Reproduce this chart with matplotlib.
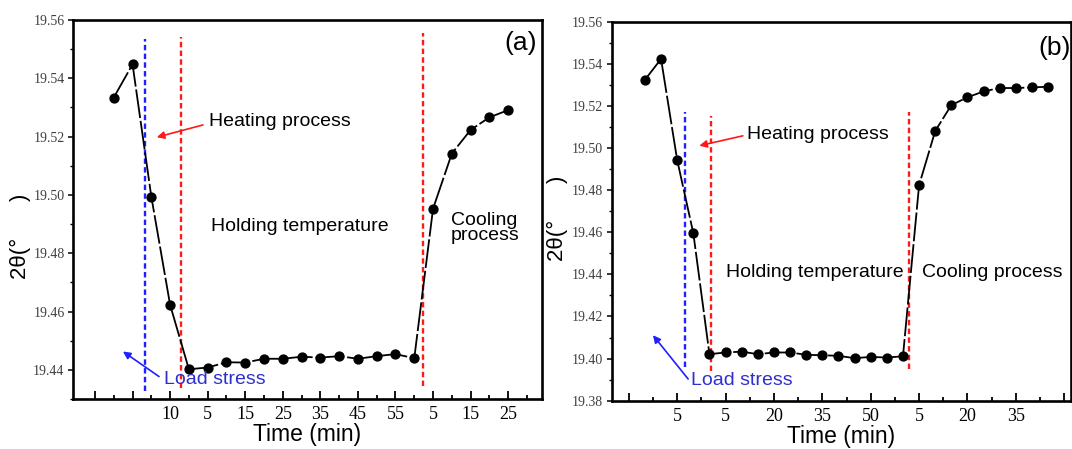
import matplotlib
matplotlib.use("Agg")
import matplotlib.pyplot as plt
import numpy as np

# ---------------- data ----------------
# panel (a)
a_idx = list(range(1, 23))
a_vals = [19.5334, 19.5448, 19.4994, 19.4623, 19.4402, 19.4408, 19.4426, 19.4425,
          19.4438, 19.4438, 19.4445, 19.4442, 19.4447, 19.4438, 19.4447, 19.4454,
          19.4440, 19.4953, 19.5142, 19.5223, 19.5266, 19.5291]
a_tick_pos = list(range(0, 23, 2))
a_tick_labels = ['', '', '10', '5', '15', '25', '35', '45', '55', '5', '15', '25']
a_blue_x = 2.65
a_red_x = [4.58, 17.48]

# panel (b)
b_idx = list(range(0, 26))
b_vals = [19.5324, 19.5423, 19.4943, 19.4596, 19.4021, 19.4029, 19.4033, 19.4021,
          19.4029, 19.4029, 19.4018, 19.4016, 19.4013, 19.4002, 19.4008, 19.4005,
          19.4011, 19.4824, 19.5081, 19.5204, 19.5241, 19.5269, 19.5285, 19.5285,
          19.5288, 19.5291]
b_tick_pos = [-1, 2, 5, 8, 11, 14, 17, 20, 23, 26]
b_tick_labels = ['', '5', '5', '20', '35', '50', '5', '20', '35', '']
b_blue_x = 2.48
b_red_x = [4.09, 16.37]

SANS = ['Liberation Sans', 'DejaVu Sans']
SERIF = ['Liberation Serif', 'DejaVu Serif']
plt.rcParams['font.family'] = SANS

fig = plt.figure(figsize=(10.72, 4.49), dpi=100)
axA = fig.add_axes([73/1072, 50/449, 469/1072, 379/449])
axB = fig.add_axes([611.7/1072, 48.3/449, 459/1072, 379/449])

RED = '#ff1a1a'
BLUE = '#1f1fff'
LBLUE = '#2f2fcf'
YLABEL = '2θ(°      )'


def style_axes(ax, xlim, ylim, xticks, xlabels, yticks, yminor):
    ax.set_xlim(*xlim)
    ax.set_ylim(*ylim)
    for s in ax.spines.values():
        s.set_linewidth(1.9)
    ax.set_xticks(xticks)
    ax.set_xticklabels(xlabels)
    step = xticks[1] - xticks[0]
    ax.set_xticks([t + step / 2 for t in xticks[:-1]] +
                  ([xticks[-1] + step / 2] if xticks[-1] + step / 2 < xlim[1] else []),
                  minor=True)
    ax.set_yticks(yticks)
    ax.set_yticklabels([f'{v:.2f}' for v in yticks])
    ax.set_yticks(yminor, minor=True)
    ax.tick_params(axis='x', which='major', direction='in', length=5.5, width=1.3,
                   pad=5, labelsize=13, top=False)
    ax.tick_params(axis='x', which='minor', direction='in', length=3, width=1.3, top=False)
    ax.tick_params(axis='y', which='major', direction='out', length=3.6, width=1.1,
                   pad=2.5, labelsize=10, labelcolor='#404040', right=False)
    ax.tick_params(axis='y', which='minor', direction='out', length=2.2, width=1.0, right=False)
    for lab in ax.get_xticklabels() + ax.get_yticklabels():
        lab.set_family(SERIF)
    ax.set_xlabel('Time (min)', fontsize=16.5, labelpad=0)


def draw_series(ax, x, y):
    ax.plot(x, y, color='black', lw=1.3, ls=(0, (16, 1.6)), marker='o',
            markersize=6.4, markerfacecolor='black', markeredgecolor='black', zorder=3)


def vline(ax, x, y0, y1, color):
    ax.plot([x, x], [y0, y1], color=color, lw=1.7, dashes=(2.3, 1.4), zorder=2)


# ---------------- panel (a) ----------------
axA_yt = [19.44, 19.46, 19.48, 19.50, 19.52, 19.54, 19.56]
axA_ym = [19.43, 19.45, 19.47, 19.49, 19.51, 19.53, 19.55]
vline(axA, a_blue_x, 19.4329, 19.5534, BLUE)
vline(axA, a_red_x[0], 19.4337, 19.5540, RED)
vline(axA, a_red_x[1], 19.4343, 19.5554, RED)
draw_series(axA, a_idx, a_vals)
style_axes(axA, (-1.17, 23.8), (19.43, 19.56), a_tick_pos, a_tick_labels, axA_yt, axA_ym)
fig.text(20/1072, 1 - 236/449, YLABEL, rotation=90, fontsize=16, ha='center', va='center')

axA.text(6.07, 19.5251, 'Heating process', fontsize=14, va='center', ha='left')
axA.annotate('', xy=(3.29, 19.5198), xytext=(5.75, 19.5240),
             arrowprops=dict(arrowstyle='-|>', color=RED, lw=1.2, mutation_scale=11,
                             shrinkA=0, shrinkB=0))
axA.text(6.16, 19.4891, 'Holding temperature', fontsize=14, va='center', ha='left')
axA.text(18.96, 19.4888, 'Cooling\nprocess', fontsize=14, va='center', ha='left',
         linespacing=0.85)
axA.text(3.7, 19.4366, 'Load stress', fontsize=14, va='center', ha='left', color=LBLUE)
axA.annotate('', xy=(1.49, 19.4463), xytext=(3.41, 19.4377),
             arrowprops=dict(arrowstyle='-|>', color=BLUE, lw=1.2, mutation_scale=11,
                             shrinkA=0, shrinkB=0))
axA.text(0.99, 0.94, '(a)', transform=axA.transAxes, fontsize=19, ha='right', va='center')

# ---------------- panel (b) ----------------
axB_yt = [19.38, 19.40, 19.42, 19.44, 19.46, 19.48, 19.50, 19.52, 19.54, 19.56]
axB_ym = [19.39, 19.41, 19.43, 19.45, 19.47, 19.49, 19.51, 19.53, 19.55]
vline(axB, b_blue_x, 19.3958, 19.5169, BLUE)
vline(axB, b_red_x[0], 19.3942, 19.5153, RED)
vline(axB, b_red_x[1], 19.3950, 19.5169, RED)
draw_series(axB, b_idx, b_vals)
style_axes(axB, (-2.06, 26.4), (19.38, 19.56), b_tick_pos, b_tick_labels, axB_yt, axB_ym)
fig.text(557/1072, 1 - 218/449, YLABEL, rotation=90, fontsize=16, ha='center', va='center')

axB.text(6.32, 19.5066, 'Heating process', fontsize=14, va='center', ha='left')
axB.annotate('', xy=(3.37, 19.5011), xytext=(6.07, 19.5058),
             arrowprops=dict(arrowstyle='-|>', color=RED, lw=1.2, mutation_scale=11,
                             shrinkA=0, shrinkB=0))
axB.text(5.05, 19.4409, 'Holding temperature', fontsize=14, va='center', ha='left')
axB.text(17.2, 19.4409, 'Cooling process', fontsize=14, va='center', ha='left')
axB.text(2.85, 19.3895, 'Load stress', fontsize=14, va='center', ha='left', color=LBLUE)
axB.annotate('', xy=(0.5, 19.4111), xytext=(2.68, 19.3903),
             arrowprops=dict(arrowstyle='-|>', color=BLUE, lw=1.2, mutation_scale=11,
                             shrinkA=0, shrinkB=0))
axB.text(1.0, 0.93, '(b)', transform=axB.transAxes, fontsize=19, ha='right', va='center')

fig.savefig('out.png', dpi=100)
